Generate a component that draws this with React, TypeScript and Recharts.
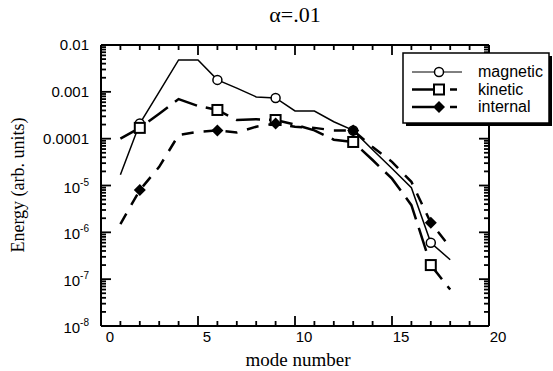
import { Label, Legend, Line, LineChart, XAxis, YAxis } from 'recharts';

// mode numbers that carry energy values
const MODES = [1, 2, 3, 4, 5, 6, 7, 8, 9, 10, 11, 12, 13, 14, 15, 16, 17, 18];

const MAGNETIC = [
  1.7e-5, 2.1e-4, 1.0e-3, 4.8e-3, 4.8e-3, 1.8e-3, 1.2e-3, 7.8e-4, 7.4e-4,
  3.9e-4, 3.9e-4, 2.3e-4, 1.5e-4, 5.8e-5, 2.3e-5, 9.0e-6, 6.0e-7, 2.6e-7,
];
const KINETIC = [
  1.0e-4, 1.7e-4, 3.4e-4, 7.0e-4, 5.0e-4, 4.1e-4, 2.5e-4, 2.6e-4, 2.5e-4,
  2.0e-4, 1.5e-4, 9.5e-5, 8.5e-5, 3.5e-5, 1.4e-5, 3.8e-6, 2.0e-7, 6.0e-8,
];
const INTERNAL = [
  1.5e-6, 8.0e-6, 2.5e-5, 1.2e-4, 1.4e-4, 1.5e-4, 1.35e-4, 1.8e-4, 2.1e-4,
  1.8e-4, 1.7e-4, 1.5e-4, 1.5e-4, 6.6e-5, 3.2e-5, 1.2e-5, 1.6e-6, 4.8e-7,
];

// modes where a symbol is drawn on each curve
const MARKER_MODES = [2, 6, 9, 13, 17];

const X_TICKS = Array.from({ length: 21 }, (_, i) => i);
const Y_DECADES = [-8, -7, -6, -5, -4, -3];
const Y_TICKS = [...Y_DECADES.flatMap((d) => [1, 2, 3, 4, 5, 6, 7, 8, 9].map((k) => k * 10 ** d)), 1e-2];
const Y_PLAIN_LABELS: Record<number, string> = { [-2]: '0.01', [-3]: '0.001', [-4]: '0.0001' };

type MarkerShape = 'circle' | 'square' | 'diamond';

const SERIES: { key: string; label: string; dash?: string; width: number; marker: MarkerShape }[] = [
  { key: 'magnetic', label: 'magnetic', width: 1.5, marker: 'circle' },
  { key: 'kinetic', label: 'kinetic', dash: '24 9', width: 2.5, marker: 'square' },
  { key: 'internal', label: 'internal', dash: '12 10', width: 2.5, marker: 'diamond' },
];

const data = MODES.map((mode, i) => ({
  mode,
  magnetic: MAGNETIC[i],
  kinetic: KINETIC[i],
  internal: INTERNAL[i],
}));

const SANS = 'Liberation Sans, Arial, sans-serif';
const SERIF = 'Liberation Serif, Times New Roman, serif';
const AXIS_LINE = { stroke: '#000', strokeWidth: 2 };

// plot box edges in px (follow from chart size, margins and axis sizes)
const LEFT = 101;
const RIGHT = 489;
const TOP = 45;
const BOTTOM = 326;
const PX_PER_X = (RIGHT - LEFT) / 20;
const PX_PER_DECADE = (BOTTOM - TOP) / 6;
const MINOR = 5;
const MAJOR = 10;

const isMajorY = (v: number) => Math.abs(Math.log10(v) - Math.round(Math.log10(v))) < 1e-6;

function Marker({ shape, cx, cy }: { shape: MarkerShape; cx: number; cy: number }) {
  if (shape === 'circle') {
    return <circle cx={cx} cy={cy} r={4.5} fill="#fff" stroke="#000" strokeWidth={1.5} />;
  }
  if (shape === 'square') {
    return <rect x={cx - 5} y={cy - 5} width={10} height={10} fill="#fff" stroke="#000" strokeWidth={2} />;
  }
  return (
    <polygon
      points={`${cx},${cy - 6} ${cx + 6},${cy} ${cx},${cy + 6} ${cx - 6},${cy}`}
      fill="#000"
    />
  );
}

function BottomTick(props: any) {
  const x = Number(props.x);
  const y = Number(props.y);
  const v = props.payload.value;
  if (v % 5 !== 0) return <g />;
  return (
    <text x={x + 9} y={y + 16} textAnchor="middle" fontFamily={SANS} fontSize={15} fill="#000">
      {v}
    </text>
  );
}

function LeftTick(props: any) {
  const x = Number(props.x);
  const y = Number(props.y);
  const v = props.payload.value as number;
  if (!isMajorY(v)) return <g />;
  const e = Math.round(Math.log10(v));
  return Y_PLAIN_LABELS[e] ? (
    <text x={x - 12} y={y + 5} textAnchor="end" fontFamily={SANS} fontSize={15} fill="#000">
      {Y_PLAIN_LABELS[e]}
    </text>
  ) : (
    <text x={x - 12} y={y + 7} textAnchor="end" fontFamily={SANS} fontSize={15} fill="#000">
      10
      <tspan dy={-7} fontSize={10}>
        {e}
      </tspan>
    </text>
  );
}

// inward frame ticks on all four sides plus the boxed legend
function Overlay() {
  return (
    <svg width={553} height={371} style={{ display: 'block', pointerEvents: 'none' }}>
      {X_TICKS.map((t) => {
        const x = LEFT + t * PX_PER_X;
        const len = t % 5 === 0 ? MAJOR : MINOR;
        return (
          <g key={`x${t}`}>
            <line x1={x} y1={BOTTOM} x2={x} y2={BOTTOM - len} stroke="#000" strokeWidth={1.8} />
            <line x1={x} y1={TOP} x2={x} y2={TOP + len} stroke="#000" strokeWidth={1.8} />
          </g>
        );
      })}
      {Y_TICKS.map((v) => {
        const y = BOTTOM - (Math.log10(v) + 8) * PX_PER_DECADE;
        const len = isMajorY(v) ? MAJOR : MINOR;
        return (
          <g key={`y${v}`}>
            <line x1={LEFT} y1={y} x2={LEFT + len} y2={y} stroke="#000" strokeWidth={1.8} />
            <line x1={RIGHT} y1={y} x2={RIGHT - len} y2={y} stroke="#000" strokeWidth={1.8} />
          </g>
        );
      })}
      <g transform="translate(402,52)">
        <rect x={4} y={4} width={146} height={70} fill="#000" />
        <rect x={1} y={1} width={146} height={70} fill="#fff" stroke="#000" strokeWidth={1.5} />
        {SERIES.map((s, i) => {
          const cy = 20 + i * 17.5;
          return (
            <g key={s.key}>
              {s.dash ? (
                <>
                  <line x1={10} y1={cy} x2={32} y2={cy} stroke="#000" strokeWidth={2.5} />
                  <line x1={48} y1={cy} x2={55} y2={cy} stroke="#000" strokeWidth={2.5} />
                </>
              ) : (
                <line x1={10} y1={cy} x2={60} y2={cy} stroke="#000" strokeWidth={1} />
              )}
              <Marker shape={s.marker} cx={37} cy={cy} />
              <text x={76} y={cy + 5} fontFamily={SANS} fontSize={16} fill="#000">
                {s.label}
              </text>
            </g>
          );
        })}
      </g>
    </svg>
  );
}

export default function App() {
  return (
    <div style={{ position: 'absolute', left: 0, top: 0, width: 553, height: 371, background: '#fff' }}>
      <div
        style={{
          position: 'absolute',
          left: 245,
          top: 2,
          width: 100,
          textAlign: 'center',
          fontFamily: SERIF,
          fontSize: 22,
          lineHeight: '26px',
        }}
      >
        α=.01
      </div>
      <LineChart width={553} height={371} data={data} margin={{ top: 44, right: 63, bottom: 0, left: 0 }}>
        <XAxis
          xAxisId="b"
          dataKey="mode"
          type="number"
          domain={[0, 20]}
          ticks={X_TICKS}
          interval={0}
          height={45}
          tickSize={0}
          tickMargin={0}
          tickLine={false}
          tick={BottomTick}
          axisLine={AXIS_LINE}
        >
          <Label
            content={() => (
              <text x={298} y={366} textAnchor="middle" fontFamily={SERIF} fontSize={19} fill="#000">
                mode number
              </text>
            )}
          />
        </XAxis>
        <XAxis
          xAxisId="t"
          orientation="top"
          dataKey="mode"
          type="number"
          domain={[0, 20]}
          ticks={X_TICKS}
          height={1}
          tickLine={false}
          tick={false}
          axisLine={AXIS_LINE}
        />
        <YAxis
          yAxisId="l"
          type="number"
          scale="log"
          domain={[1e-8, 1e-2]}
          ticks={Y_TICKS}
          interval={0}
          allowDataOverflow
          width={101}
          tickSize={0}
          tickMargin={0}
          tickLine={false}
          tick={LeftTick}
          axisLine={AXIS_LINE}
        >
          <Label
            content={() => (
              <text
                x={24}
                y={185}
                transform="rotate(-90 24 185)"
                textAnchor="middle"
                fontFamily={SERIF}
                fontSize={18}
                fill="#000"
              >
                Energy (arb. units)
              </text>
            )}
          />
        </YAxis>
        <YAxis
          yAxisId="r"
          orientation="right"
          type="number"
          scale="log"
          domain={[1e-8, 1e-2]}
          ticks={Y_TICKS}
          allowDataOverflow
          width={1}
          tickLine={false}
          tick={false}
          axisLine={AXIS_LINE}
        />
        {SERIES.map((s) => (
          <Line
            key={s.key}
            xAxisId="b"
            yAxisId="l"
            dataKey={s.key}
            type="linear"
            stroke="#000"
            strokeWidth={s.width}
            strokeDasharray={s.dash}
            isAnimationActive={false}
            dot={(p: any) =>
              MARKER_MODES.includes(p.payload.mode) ? (
                <Marker key={`${s.key}-${p.index}`} shape={s.marker} cx={p.cx} cy={p.cy} />
              ) : (
                <g key={`${s.key}-${p.index}`} />
              )
            }
            activeDot={false}
          />
        ))}
        <Legend
          layout="horizontal"
          verticalAlign="middle"
          align="center"
          content={() => <Overlay />}
          wrapperStyle={{ position: 'absolute', left: 0, top: 0, width: 553, height: 371, pointerEvents: 'none' }}
        />
      </LineChart>
    </div>
  );
}
